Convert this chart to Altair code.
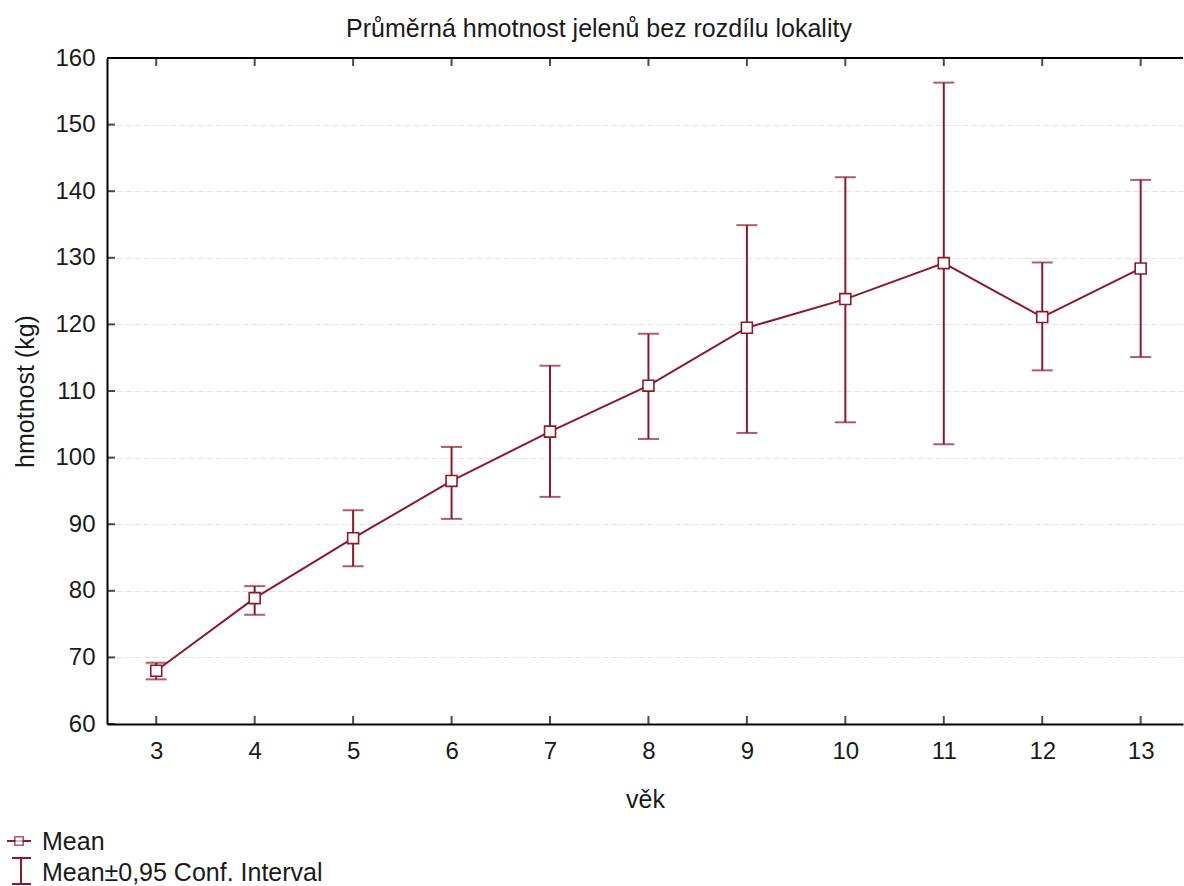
import altair as alt
import pandas as pd

ages = [3, 4, 5, 6, 7, 8, 9, 10, 11, 12, 13]
means = [68.0, 78.9, 87.9, 96.5, 103.9, 110.8, 119.5, 123.8, 129.2, 121.1, 128.4]
lower = [66.7, 76.4, 83.7, 90.8, 94.1, 102.8, 103.7, 105.3, 102.0, 113.1, 115.1]
upper = [69.2, 80.7, 92.1, 101.6, 113.8, 118.6, 134.9, 142.1, 156.3, 129.3, 141.7]
y_ticks = [60, 70, 80, 90, 100, 110, 120, 130, 140, 150, 160]
legend_labels = ["Mean", "Mean\u00b10,95 Conf. Interval"]

RED = "#8a1a2b"
FONT = "Liberation Sans"
TXT = "#1a1a1a"
W, H = 1076, 666

df = pd.DataFrame({"age": ages, "mean": means, "lower": lower, "upper": upper})
ticks_df = pd.DataFrame({"v": y_ticks})
one = pd.DataFrame({"k": [0]})

xs = alt.Scale(domain=[2.5, 13.43], nice=False, zero=False)
ys = alt.Scale(domain=[60, 160], nice=False, zero=False)

x_enc = alt.X("age:Q", scale=xs, title="věk",
              axis=alt.Axis(values=ages, ticks=False, grid=False, labelPadding=15,
                            titlePadding=24, format="d"))
y_enc = alt.Y("mean:Q", scale=ys, title="hmotnost (kg)",
              axis=alt.Axis(values=y_ticks, ticks=False, grid=True, labelPadding=12,
                            titlePadding=16))

base = alt.Chart(df)

line = base.mark_line(color=RED, strokeWidth=2).encode(x=x_enc, y=y_enc)
rules = base.mark_rule(color=RED, strokeWidth=2).encode(
    x=alt.X("age:Q", scale=xs), y=alt.Y("lower:Q", scale=ys), y2="upper:Q")
cap_lo = base.mark_tick(color=RED, orient="horizontal", size=21, thickness=2).encode(
    x=alt.X("age:Q", scale=xs), y=alt.Y("lower:Q", scale=ys))
cap_hi = base.mark_tick(color=RED, orient="horizontal", size=21, thickness=2).encode(
    x=alt.X("age:Q", scale=xs), y=alt.Y("upper:Q", scale=ys))
pts = base.mark_point(shape="square", filled=True, fill="white",
                      stroke=RED, strokeWidth=1.6, size=120, opacity=1).encode(
    x=alt.X("age:Q", scale=xs), y=alt.Y("mean:Q", scale=ys))

# inward ticks on bottom, top, left
tb = base.mark_tick(color="black", orient="vertical", size=8, thickness=2).encode(
    x=alt.X("age:Q", scale=xs), y=alt.value(H - 4))
tt = base.mark_tick(color="black", orient="vertical", size=8, thickness=2).encode(
    x=alt.X("age:Q", scale=xs), y=alt.value(4))
tl = alt.Chart(ticks_df).mark_tick(color="black", orient="horizontal", size=8, thickness=2).encode(
    y=alt.Y("v:Q", scale=ys), x=alt.value(4))
top_line = alt.Chart(one).mark_rule(color="black", strokeWidth=2).encode(
    x=alt.value(0), x2=alt.value(W), y=alt.value(0))

# legend (below plot)
leg_t1 = alt.Chart(one).mark_text(align="left", baseline="middle", font=FONT, fontSize=25,
                                  color=TXT, text=legend_labels[0]).encode(
    x=alt.value(-65), y=alt.value(784))
leg_t2 = alt.Chart(one).mark_text(align="left", baseline="middle", font=FONT, fontSize=25,
                                  color=TXT, text=legend_labels[1]).encode(
    x=alt.value(-65), y=alt.value(815))
leg_sym_line = alt.Chart(one).mark_rule(color=RED, strokeWidth=2).encode(
    x=alt.value(-100), x2=alt.value(-76), y=alt.value(783))
leg_sym_sq = alt.Chart(one).mark_point(shape="square", filled=True, fill="white",
                                       stroke=RED, strokeWidth=1.6, size=70).encode(
    x=alt.value(-88), y=alt.value(783))
leg_sym_v = alt.Chart(one).mark_rule(color=RED, strokeWidth=2).encode(
    x=alt.value(-86), y=alt.value(800), y2=alt.value(826))
leg_sym_c1 = alt.Chart(one).mark_rule(color=RED, strokeWidth=2).encode(
    x=alt.value(-95), x2=alt.value(-76), y=alt.value(800))
leg_sym_c2 = alt.Chart(one).mark_rule(color=RED, strokeWidth=2).encode(
    x=alt.value(-95), x2=alt.value(-76), y=alt.value(826))

chart = alt.layer(
    line, rules, cap_lo, cap_hi, pts, tb, tt, tl, top_line,
    leg_t1, leg_t2, leg_sym_line, leg_sym_sq, leg_sym_v, leg_sym_c1, leg_sym_c2
).properties(
    width=W, height=H,
    title=alt.TitleParams("Průměrná hmotnost jelenů bez rozdílu lokality", anchor="middle",
                          font=FONT, fontSize=25, fontWeight="normal", color=TXT,
                          offset=4, dx=-46),
    autosize=alt.AutoSizeParams(type="none"),
    padding={"left": 107, "top": 58, "right": 1, "bottom": 162},
    background="white",
).configure_view(stroke=None).configure_axis(
    labelFont=FONT, titleFont=FONT, labelFontSize=24, titleFontSize=25,
    labelColor=TXT, titleColor=TXT, titleFontWeight="normal",
    domainColor="black", domainWidth=2, gridColor="#e3e3e3", gridWidth=1, gridDash=[6, 3],
)

chart.save("out.html", embed_options={"renderer": "svg", "actions": False})
